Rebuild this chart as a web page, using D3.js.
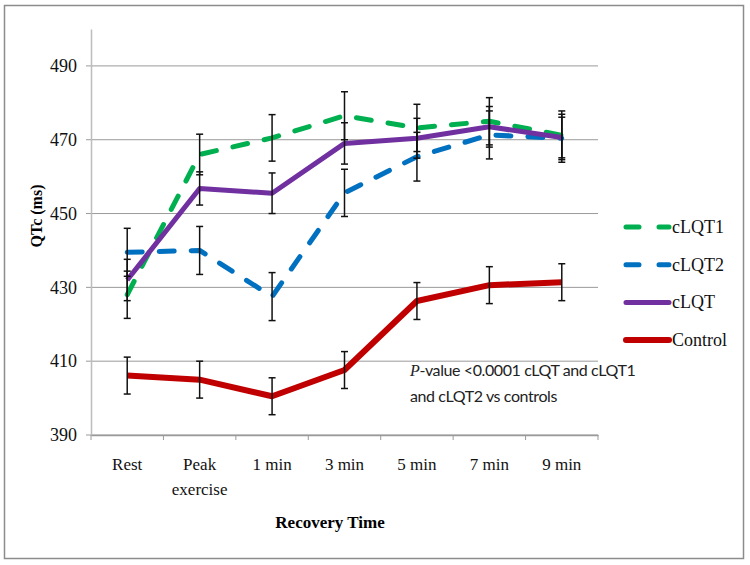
<!DOCTYPE html>
<html>
<head>
<meta charset="utf-8">
<script src="https://cdn.jsdelivr.net/npm/d3@7"></script>
<style>
  body { margin: 0; background: #fff; }
  svg { display: block; }
</style>
</head>
<body>
<svg id="chart" width="750" height="565"></svg>
<script>
// categories along the x axis (second line used for "Peak exercise")
var categories = ['Rest', 'Peak exercise', '1 min', '3 min', '5 min', '7 min', '9 min'];
var yTicks = [390, 410, 430, 450, 470, 490];

// mean QTc per series, and error (+/-) per point
var cLQT1 = [428, 466, 470.5, 476.5, 473.2, 475, 471.2];
var cLQT1Err = [6.4, 5.5, 6.3, 6.5, 6.4, 6.4, 6.6];
var cLQT2 = [439.5, 440, 427.5, 455.6, 465.4, 471.3, 470.4];
var cLQT2Err = [6.5, 6.5, 6.5, 6.4, 6.6, 6.5, 6.5];
var cLQT = [432, 456.8, 455.5, 469, 470.4, 473.5, 470.6];
var cLQTErr = [5.6, 4.5, 5.5, 5.6, 5.4, 5.5, 5.5];
var control = [406.1, 405, 400.5, 407.6, 426.3, 430.6, 431.4];
var controlErr = [5, 5, 5, 5, 5, 5, 5];

var seriesNames = ['cLQT1', 'cLQT2', 'cLQT', 'Control'];

var series = [
    {name: seriesNames[0], values: cLQT1, err: cLQT1Err, color: '#00b050', dash: '15,17', width: 5},
    {name: seriesNames[1], values: cLQT2, err: cLQT2Err, color: '#0070c0', dash: '15,17', width: 5},
    {name: seriesNames[2], values: cLQT, err: cLQTErr, color: '#7030a0', dash: null, width: 5},
    {name: seriesNames[3], values: control, err: controlErr, color: '#c00000', dash: null, width: 6}
];

var svg = d3.select('#chart');
var serif = '"Liberation Serif", "Times New Roman", "DejaVu Serif", serif';

// outer frame
svg.append('rect')
    .attr('x', 4.5).attr('y', 5.5)
    .attr('width', 739).attr('height', 553)
    .style('fill', 'none')
    .style('stroke', '#8c8c8c')
    .style('stroke-width', 1.5);

var x = d3.scaleBand().domain(categories).range([91, 598]);
var y = d3.scaleLinear().domain([390, 500]).range([435, 29]);

// gridlines
svg.append('g').selectAll('line')
    .data(yTicks)
    .enter().append('line')
    .attr('x1', 86).attr('x2', 598)
    .attr('y1', function(d) { return y(d); })
    .attr('y2', function(d) { return y(d); })
    .style('stroke', '#9a9a9a')
    .style('stroke-width', 1);

// y axis
var yAxis = svg.append('g')
    .attr('transform', 'translate(91,0)')
    .call(d3.axisLeft(y).tickValues(yTicks).tickSize(0).tickPadding(14));
yAxis.select('.domain').style('stroke', '#bdbdbd').style('stroke-width', 1.5);
yAxis.selectAll('text')
    .style('font-family', serif)
    .style('font-size', '18px')
    .style('fill', '#111');

// x axis
var xAxis = svg.append('g')
    .attr('transform', 'translate(0,435)')
    .call(d3.axisBottom(x).tickSize(0).tickFormat(''));
xAxis.select('.domain').style('stroke', '#9a9a9a').style('stroke-width', 1.5);

// tick marks between categories
svg.append('g').selectAll('line')
    .data(d3.range(categories.length + 1))
    .enter().append('line')
    .attr('x1', function(i) { return x.range()[0] + i * x.bandwidth(); })
    .attr('x2', function(i) { return x.range()[0] + i * x.bandwidth(); })
    .attr('y1', 435).attr('y2', 440)
    .style('stroke', '#9a9a9a');

var catLabels = svg.append('g').selectAll('text')
    .data(categories)
    .enter().append('text')
    .attr('x', function(d) { return x(d) + x.bandwidth() / 2; })
    .attr('y', 470)
    .attr('text-anchor', 'middle')
    .style('font-family', serif)
    .style('font-size', '17px')
    .style('fill', '#111');

catLabels.each(function(d) {
    var words = d === 'Peak exercise' ? ['Peak', 'exercise'] : [d];
    var t = d3.select(this);
    words.forEach(function(w, i) {
        t.append('tspan')
            .attr('x', x(d) + x.bandwidth() / 2)
            .attr('dy', i === 0 ? 0 : 25)
            .text(w);
    });
});

svg.append('text')
    .attr('x', 330).attr('y', 528)
    .attr('text-anchor', 'middle')
    .style('font-family', serif)
    .style('font-size', '17px')
    .style('font-weight', 'bold')
    .text('Recovery Time');

svg.append('text')
    .attr('transform', 'translate(42,216) rotate(-90)')
    .attr('text-anchor', 'middle')
    .style('font-family', serif)
    .style('font-size', '16px')
    .style('font-weight', 'bold')
    .text('QTc (ms)');

// lines
var line = d3.line()
    .x(function(d, i) { return x(categories[i]) + x.bandwidth() / 2; })
    .y(function(d) { return y(d); });

svg.append('g').selectAll('path')
    .data(series)
    .enter().append('path')
    .attr('d', function(s) { return line(s.values); })
    .style('fill', 'none')
    .style('stroke', function(s) { return s.color; })
    .style('stroke-width', function(s) { return s.width; })
    .style('stroke-dasharray', function(s) { return s.dash; })
    .style('stroke-linecap', function(s) { return s.dash ? 'round' : 'butt'; })
    .style('stroke-linejoin', 'round');

// error bars
var bars = [];
series.forEach(function(s) {
    s.values.forEach(function(v, i) {
        bars.push({cat: categories[i], lo: v - s.err[i], hi: v + s.err[i]});
    });
});

var eb = svg.append('g').selectAll('g')
    .data(bars)
    .enter().append('g')
    .attr('transform', function(d) { return 'translate(' + (x(d.cat) + x.bandwidth() / 2) + ',0)'; })
    .style('stroke', '#111')
    .style('stroke-width', 1.5);

eb.append('line')
    .attr('y1', function(d) { return y(d.lo); })
    .attr('y2', function(d) { return y(d.hi); });
eb.append('line')
    .attr('x1', -3.5).attr('x2', 3.5)
    .attr('y1', function(d) { return y(d.lo); })
    .attr('y2', function(d) { return y(d.lo); });
eb.append('line')
    .attr('x1', -3.5).attr('x2', 3.5)
    .attr('y1', function(d) { return y(d.hi); })
    .attr('y2', function(d) { return y(d.hi); });

// legend
var legend = svg.append('g').selectAll('g')
    .data(series)
    .enter().append('g')
    .attr('transform', function(s, i) { return 'translate(624,' + (227 + i * 37.7) + ')'; });

legend.append('line')
    .attr('x1', 2).attr('x2', 45)
    .style('stroke', function(s) { return s.color; })
    .style('stroke-width', function(s) { return s.width; })
    .style('stroke-dasharray', function(s) { return s.dash ? '13,20' : null; })
    .style('stroke-linecap', 'round');

legend.append('text')
    .attr('x', 48).attr('y', 6)
    .style('font-family', serif)
    .style('font-size', '18px')
    .style('fill', '#111')
    .text(function(s) { return s.name; });

// annotation
var note = svg.append('text')
    .attr('x', 410).attr('y', 376)
    .style('font-family', 'Lato, "Open Sans", sans-serif')
    .style('font-size', '16px')
    .style('letter-spacing', '-0.4px')
    .style('fill', '#222');
note.append('tspan').style('font-style', 'italic').style('font-family', serif).text('P');
note.append('tspan').text('-value <0.0001 cLQT and cLQT1');
svg.append('text')
    .attr('x', 410).attr('y', 402)
    .style('font-family', 'Lato, "Open Sans", sans-serif')
    .style('font-size', '16px')
    .style('letter-spacing', '-0.4px')
    .style('fill', '#222')
    .text('and cLQT2 vs controls');
</script>
</body>
</html>
